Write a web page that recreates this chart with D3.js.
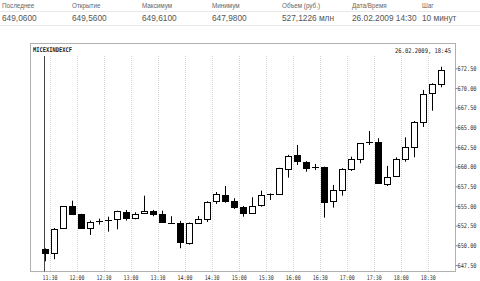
<!DOCTYPE html>
<html><head><meta charset="utf-8">
<script src="https://cdn.jsdelivr.net/npm/d3@7"></script>
<style>body{margin:0;background:#fff}svg{display:block}</style>
</head><body>
<script>
const headerLabels = ["Последнее","Открытие","Максимум","Минимум","Объем (руб.)","Дата/Время","Шаг"];
const headerValues = ["649,0600","649,5600","649,6100","647,9800","527,1226 млн","26.02.2009 14:30","10 минут"];
const title = "MICEXINDEXCF";
const stamp = "26.02.2009, 18:45";
const times = ["11:25","11:35","11:45","11:55","12:05","12:15","12:25","12:35","12:45","12:55",
"13:05","13:15","13:25","13:35","13:45","13:55","14:05","14:15","14:25","14:35",
"14:45","14:55","15:05","15:15","15:25","15:35","15:45","15:55","16:05","16:15",
"16:25","16:35","16:45","16:55","17:05","17:15","17:25","17:35","17:45","17:55",
"18:05","18:15","18:25","18:35","18:45"];
const open  = [649.56,649.07,652.17,654.97,653.95,652.21,653.10,653.22,653.35,654.20,
653.44,654.08,654.37,653.99,652.90,652.88,650.34,652.88,653.39,655.60,
656.40,655.64,654.84,654.15,655.09,656.53,656.57,659.74,661.48,660.59,
659.96,659.96,655.60,657.04,659.70,661.01,663.14,663.17,657.80,658.85,
660.97,662.54,665.71,669.36,670.50];
const high  = [649.61,652.20,655.00,655.68,654.00,653.14,653.39,653.64,654.40,654.50,
654.20,656.31,654.50,654.41,653.70,653.10,652.90,653.73,655.60,656.78,
657.54,655.98,655.00,656.11,656.95,656.60,659.85,661.50,662.75,660.70,
660.34,660.00,657.67,659.80,661.27,663.00,664.53,663.61,660.09,661.19,
663.73,665.80,669.74,670.60,672.70];
const low   = [647.98,648.23,652.10,653.90,652.10,651.32,652.63,651.74,652.04,653.14,
653.31,653.99,653.70,652.90,652.85,649.63,650.09,652.80,652.97,655.26,
655.42,654.62,653.64,654.05,654.91,655.76,656.55,658.60,660.21,659.36,
659.58,653.52,654.79,656.31,659.45,660.43,662.75,657.90,657.54,658.70,
660.63,661.19,665.04,667.11,670.09];
const close = [649.06,652.12,654.97,653.99,652.17,652.93,653.12,653.22,654.33,653.44,
654.02,654.37,653.99,652.97,652.90,650.39,652.80,653.35,655.51,656.49,
655.64,654.91,654.15,654.97,656.36,656.53,659.79,661.39,660.72,659.87,
659.96,655.47,657.00,659.67,660.97,662.97,663.14,657.96,658.73,660.97,
662.54,665.68,669.20,670.47,672.28];
const priceTicks = [647.5,650,652.5,655,657.5,660,662.5,665,667.5,670,672.5];
const timeTicks = ["11:30","12:00","12:30","13:00","13:30","14:00","14:30","15:00","15:30","16:00","16:30","17:00","17:30","18:00","18:30"];

const W=480,H=281;
const svg=d3.select("body").append("svg").attr("width",W).attr("height",H);
const parse=d3.timeParse("%H:%M");

// header
const colX=d3.scaleLinear().domain([0,1]).range([2,72]);
svg.append("line").attr("x1",0).attr("x2",W).attr("y1",11.5).attr("y2",11.5).attr("stroke","#e8e8e8");
svg.append("line").attr("x1",0).attr("x2",W).attr("y1",25.5).attr("y2",25.5).attr("stroke","#e8e8e8");
svg.selectAll("text.hl").data(headerLabels).enter().append("text").attr("class","hl")
 .attr("x",(d,i)=>colX(i)).attr("y",8).text(d=>d)
 .attr("font-family","Liberation Sans, Arial, sans-serif").attr("font-size",6.3).attr("fill","#666");
svg.selectAll("text.hv").data(headerValues).enter().append("text").attr("class","hv")
 .attr("x",(d,i)=>colX(i)).attr("y",21).text(d=>d)
 .attr("font-family","Liberation Sans, Arial, sans-serif").attr("font-size",8.3).attr("fill","#555");

// frame
const fL=30.5,fR=455.5,fT=43.5,fB=271.5,pT=56;
svg.append("rect").attr("x",fL).attr("y",fT).attr("width",fR-fL).attr("height",fB-fT)
 .attr("fill","none").attr("stroke","#b0b0b0");

const x=d3.scaleTime().domain([parse(times[0]),parse(times[times.length-1])]).range([45,441.3]);
const y=d3.scaleLinear().domain([647.5,672.5]).range([265,68.3]);

// grid
svg.append("g").selectAll("line").data(timeTicks).enter().append("line")
 .attr("x1",d=>Math.round(x(parse(d)))+0.5).attr("x2",d=>Math.round(x(parse(d)))+0.5)
 .attr("y1",pT).attr("y2",fB).attr("stroke","#d6d6d6").attr("stroke-dasharray","1,1");

// titles
svg.append("text").attr("x",33).attr("y",52.3).text(title)
 .attr("font-family","DejaVu Sans Mono, monospace").attr("font-weight","bold").attr("font-size",6.5)
 .attr("textLength",39).attr("lengthAdjust","spacingAndGlyphs").attr("fill","#222");
svg.append("text").attr("x",451).attr("y",52.8).attr("text-anchor","end").text(stamp)
 .attr("font-family","DejaVu Sans Mono, monospace").attr("font-size",6.5)
 .attr("textLength",56).attr("lengthAdjust","spacingAndGlyphs").attr("fill","#222");

// cursor line
svg.append("line").attr("x1",Math.round(x(parse(times[0])))-0.5).attr("x2",Math.round(x(parse(times[0])))-0.5)
 .attr("y1",pT).attr("y2",fB).attr("stroke","#444");

// axes
const yAxis=svg.append("g").attr("transform",`translate(${fR},0)`)
 .call(d3.axisRight(y).tickValues(priceTicks).tickSize(2).tickFormat(d3.format(".2f")));
yAxis.select(".domain").remove();
yAxis.selectAll("line").attr("stroke","#888");
yAxis.selectAll("text").attr("x",2).attr("font-family","DejaVu Sans Mono, monospace").attr("font-size",6.5)
 .attr("fill","#333").attr("textLength",19).attr("lengthAdjust","spacingAndGlyphs");

const xAxis=svg.append("g").attr("transform",`translate(0,${fB})`)
 .call(d3.axisBottom(x).tickValues(timeTicks.map(parse)).tickSize(0).tickFormat(d3.timeFormat("%H:%M")));
xAxis.select(".domain").remove();
xAxis.selectAll("text").attr("y",4).attr("dy","0.71em").attr("font-family","DejaVu Sans Mono, monospace").attr("font-size",6.5)
 .attr("fill","#333").attr("textLength",15).attr("lengthAdjust","spacingAndGlyphs");

// candles
const data=times.map((t,i)=>({t:parse(t),o:open[i],h:high[i],l:low[i],c:close[i]}));
const g=svg.append("g");
const bw=6;
data.forEach(d=>{
  const cx=Math.round(x(d.t))+0.5;
  g.append("line").attr("x1",cx).attr("x2",cx).attr("y1",y(d.h)).attr("y2",y(d.l)).attr("stroke","#000");
  const top=y(Math.max(d.o,d.c)), bot=y(Math.min(d.o,d.c));
  if (bot-top<1) {
    g.append("line").attr("x1",cx-3.5).attr("x2",cx+3.5).attr("y1",Math.round(top)+0.5).attr("y2",Math.round(top)+0.5).attr("stroke","#000");
  } else {
    g.append("rect").attr("x",cx-bw/2).attr("y",Math.round(top)+0.5).attr("width",bw)
     .attr("height",Math.max(1,Math.round(bot)-Math.round(top)))
     .attr("fill",d.c<d.o?"#000":"#fff").attr("stroke","#000");
  }
});
</script>
</body></html>
